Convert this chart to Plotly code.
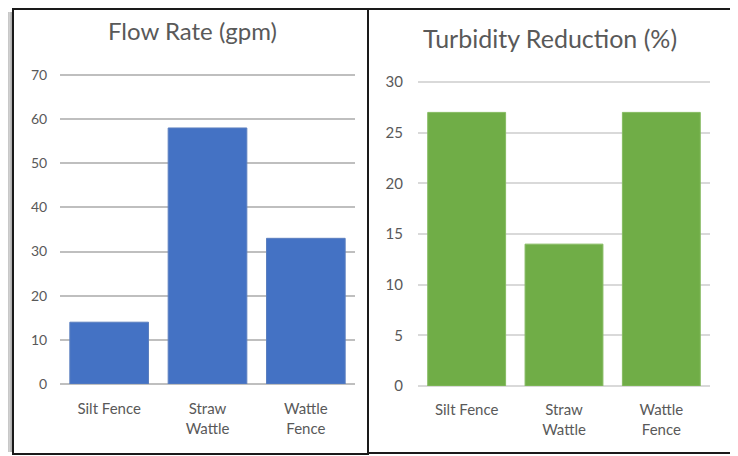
import plotly.graph_objects as go

categories = ["Silt Fence", "Straw<br>Wattle", "Wattle<br>Fence"]
flow_rate = [14, 58, 33]
turbidity_reduction = [27, 14, 27]
flow_ticks = [0, 10, 20, 30, 40, 50, 60, 70]
turb_ticks = [0, 5, 10, 15, 20, 25, 30]
flow_title = "Flow Rate (gpm)"
turb_title = "Turbidity Reduction (%)"

W, H = 738, 456
OFF = 8  # page body offset in the browser

def px(x):
    return (x - OFF) / W
def py(y):
    return 1 - (y - OFF) / H

FONT = "Lato, 'Open Sans', sans-serif"
TXT = "#595959"

fig = go.Figure()
fig.add_trace(go.Bar(x=categories, y=flow_rate, xaxis="x", yaxis="y",
                     marker=dict(color="#4472C4", line=dict(color="#5b7fbf", width=1)),
                     showlegend=False))
fig.add_trace(go.Bar(x=categories, y=turbidity_reduction, xaxis="x2", yaxis="y2",
                     marker=dict(color="#70AD47", line=dict(color="#86bb62", width=1)),
                     showlegend=False))

shapes = []
# left shadow gradient (visible part)
shades = ["#c8c8c8", "#bdbdbd", "#b0b0b0"]
for i, c in enumerate(shades):
    x0 = 8 + i * 1.5
    shapes.append(dict(type="rect", xref="paper", yref="paper",
                       x0=px(x0), x1=px(x0 + 1.5), y0=py(452), y1=py(12),
                       fillcolor=c, line=dict(width=0), layer="below"))
# frames
shapes.append(dict(type="rect", xref="paper", yref="paper",
                   x0=px(13), x1=px(368), y0=py(454), y1=py(9),
                   fillcolor="white", line=dict(color="#1a1a1a", width=2), layer="below"))
shapes.append(dict(type="rect", xref="paper", yref="paper",
                   x0=px(368), x1=px(731), y0=py(453), y1=py(9),
                   fillcolor="white", line=dict(color="#1a1a1a", width=2), layer="below"))

# pixel scales
L0, L_per = 384, 309 / 70
R0, R_per = 386, 304 / 30
L_top = 70.3
R_top = 30.15

fig.update_layout(
    template="none",
    width=W, height=H,
    margin=dict(l=0, r=0, t=0, b=0, pad=0, autoexpand=False),
    paper_bgcolor="white", plot_bgcolor="rgba(0,0,0,0)",
    bargap=0.2,
    font=dict(family=FONT, color=TXT, size=14),
    shapes=shapes,
    xaxis=dict(domain=[px(60), px(355)], anchor="y", showgrid=False, automargin=False,
               showline=False, zeroline=False, ticks="outside", ticklen=11, tickcolor="rgba(0,0,0,0)",
               tickfont=dict(size=15, color=TXT), fixedrange=True),
    yaxis=dict(domain=[py(L0), py(L0 - L_top * L_per)], anchor="x", range=[0, L_top],
               automargin=False,
               tickvals=flow_ticks, showgrid=True, gridcolor="#bfbfbf", gridwidth=2,
               zeroline=True, zerolinecolor="#bfbfbf", zerolinewidth=2,
               showline=False, ticks="outside", ticklen=9, tickcolor="rgba(0,0,0,0)",
               tickfont=dict(size=14, color=TXT)),
    xaxis2=dict(domain=[px(418), px(710)], anchor="y2", showgrid=False, automargin=False,
                showline=False, zeroline=False, ticks="outside", ticklen=10, tickcolor="rgba(0,0,0,0)",
                tickfont=dict(size=15, color=TXT)),
    yaxis2=dict(domain=[py(R0), py(R0 - R_top * R_per)], anchor="x2", range=[0, R_top],
                automargin=False,
                tickvals=turb_ticks, showgrid=True, gridcolor="#d9d9d9", gridwidth=1.5,
                zeroline=True, zerolinecolor="#d9d9d9", zerolinewidth=1.5,
                showline=False, ticks="outside", ticklen=11, tickcolor="rgba(0,0,0,0)",
                tickfont=dict(size=15, color=TXT)),
    annotations=[
        dict(text=flow_title, xref="paper", yref="paper", x=px(192), y=py(30),
             xanchor="center", yanchor="middle", showarrow=False,
             font=dict(size=24, color=TXT, family=FONT)),
        dict(text=turb_title, xref="paper", yref="paper", x=px(550), y=py(38),
             xanchor="center", yanchor="middle", showarrow=False,
             font=dict(size=25, color=TXT, family=FONT)),
    ],
)

fig.write_html("out.html")
